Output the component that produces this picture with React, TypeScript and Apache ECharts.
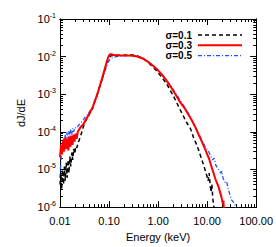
import React, { useEffect, useRef } from "react";
import * as echarts from "echarts";

const X_TICKS = [0.01, 0.1, 1, 10, 100];
const Y_TICKS = [1e-6, 1e-5, 1e-4, 1e-3, 1e-2, 1e-1];

const SERIES_NAMES = ["σ=0.1", "σ=0.3", "σ=0.5"];

// σ=0.1 (black dashed)
const E_01 = [0.0100, 0.0104, 0.0108, 0.0113, 0.0118, 0.0123, 0.0128, 0.0134, 0.0140, 0.0146, 0.0152, 0.0159, 0.0166, 0.0174, 0.0182, 0.0190, 0.020, 0.021, 0.022, 0.024, 0.026, 0.028, 0.030, 0.033, 0.037, 0.041, 0.046, 0.051, 0.056, 0.061, 0.066, 0.072, 0.078, 0.084, 0.090, 0.095, 0.100, 0.11, 0.12, 0.15, 0.20, 0.25, 0.30, 0.38, 0.45, 0.55, 0.66, 0.80, 0.90, 1.0, 1.2, 1.45, 1.7, 2.1, 2.6, 3.2, 3.8, 4.6, 5.3, 6.0, 6.7, 7.5, 8.5, 9.8, 10.5, 11.0, 11.5, 12.0, 12.5, 13.0, 13.5, 14.0];
const V_01 = [4e-6, 8e-6, 3e-6, 1e-5, 4e-6, 1.2e-5, 5e-6, 1.5e-5, 6e-6, 1.8e-5, 8e-6, 2.2e-5, 1.2e-5, 2.8e-5, 1.8e-5, 3.5e-5, 2.6e-5, 4.2e-5, 3.8e-5, 5.5e-5, 7.5e-5, 1.0e-4, 1.4e-4, 1.9e-4, 2.5e-4, 3.2e-4, 4.2e-4, 6.3e-4, 8.8e-4, 1.25e-3, 1.75e-3, 2.5e-3, 3.6e-3, 5.1e-3, 7.0e-3, 8.6e-3, 9.8e-3, 1.05e-2, 1.07e-2, 1.08e-2, 1.09e-2, 1.1e-2, 1.1e-2, 1.05e-2, 9.5e-3, 8.0e-3, 6.6e-3, 5.2e-3, 4.4e-3, 3.7e-3, 2.8e-3, 2.0e-3, 1.4e-3, 8.5e-4, 4.8e-4, 2.8e-4, 1.8e-4, 1.2e-4, 7e-5, 4.8e-5, 3.3e-5, 2.1e-5, 1.3e-5, 7e-6, 5e-6, 8e-6, 4e-6, 2.5e-6, 4e-6, 1.8e-6, 1.2e-6, 9e-7];

// σ=0.3 (red solid)
const E_03 = [0.0100, 0.0105, 0.0110, 0.0116, 0.0122, 0.0128, 0.0134, 0.0141, 0.0148, 0.0155, 0.0163, 0.0171, 0.0180, 0.0189, 0.0198, 0.0208, 0.0219, 0.023, 0.025, 0.027, 0.030, 0.033, 0.037, 0.041, 0.046, 0.051, 0.056, 0.061, 0.066, 0.072, 0.078, 0.084, 0.090, 0.095, 0.100, 0.105, 0.112, 0.12, 0.14, 0.17, 0.20, 0.25, 0.30, 0.35, 0.40, 0.50, 0.66, 0.80, 1.0, 1.2, 1.45, 1.8, 2.3, 2.8, 3.5, 4.2, 4.9, 5.8, 6.7, 7.8, 9.3, 11, 12.5, 14.8, 17, 19.5, 21, 21.5, 22, 22.5];
const V_03 = [2.1e-5, 4.5e-5, 2.5e-5, 6e-5, 3e-5, 7e-5, 3.5e-5, 6.5e-5, 3.2e-5, 7.5e-5, 4e-5, 8e-5, 4.5e-5, 8.5e-5, 5.5e-5, 9e-5, 6.5e-5, 1.0e-4, 1.2e-4, 1.4e-4, 1.6e-4, 2.0e-4, 2.6e-4, 3.3e-4, 4.3e-4, 6.5e-4, 9e-4, 1.3e-3, 1.8e-3, 2.6e-3, 3.8e-3, 5.4e-3, 7.4e-3, 9.2e-3, 1.08e-2, 1.15e-2, 1.16e-2, 1.12e-2, 1.08e-2, 1.07e-2, 1.07e-2, 1.07e-2, 1.06e-2, 1.03e-2, 9.8e-3, 8.8e-3, 6.9e-3, 5.6e-3, 4.3e-3, 3.3e-3, 2.4e-3, 1.6e-3, 9.5e-4, 6.2e-4, 4.2e-4, 2.8e-4, 2.0e-4, 1.3e-4, 8.5e-5, 5.5e-5, 3.2e-5, 1.9e-5, 1.1e-5, 5.5e-6, 3.5e-6, 1.9e-6, 1.2e-6, 1.5e-6, 8e-7, 6e-7];

// σ=0.5 (blue dash-dot)
const E_05 = [0.0100, 0.0104, 0.0108, 0.0113, 0.0118, 0.0123, 0.0128, 0.0134, 0.0140, 0.0146, 0.0152, 0.0159, 0.0166, 0.0174, 0.0182, 0.0190, 0.020, 0.022, 0.024, 0.026, 0.028, 0.030, 0.033, 0.037, 0.041, 0.046, 0.051, 0.056, 0.061, 0.066, 0.072, 0.078, 0.084, 0.090, 0.095, 0.100, 0.11, 0.12, 0.14, 0.17, 0.20, 0.25, 0.30, 0.35, 0.40, 0.50, 0.66, 0.80, 1.0, 1.2, 1.45, 1.8, 2.3, 2.8, 3.5, 4.2, 5.0, 5.8, 6.7, 7.8, 9.0, 10.7, 12, 13, 14, 15, 17, 19, 20, 21, 23, 25, 27, 29, 31, 35, 38, 40];
const V_05 = [6e-6, 1.5e-5, 4e-5, 3e-5, 7e-5, 4.5e-5, 8.5e-5, 5.5e-5, 1.0e-4, 6.5e-5, 1.05e-4, 7.5e-5, 1.15e-4, 8.5e-5, 1.25e-4, 1.0e-4, 1.3e-4, 1.25e-4, 1.5e-4, 1.7e-4, 1.9e-4, 2.1e-4, 2.5e-4, 3.0e-4, 3.6e-4, 4.6e-4, 6.3e-4, 8.6e-4, 1.2e-3, 1.7e-3, 2.4e-3, 3.3e-3, 4.4e-3, 5.6e-3, 6.8e-3, 7.8e-3, 8.9e-3, 9.5e-3, 1.0e-2, 1.03e-2, 1.05e-2, 1.06e-2, 1.06e-2, 1.04e-2, 1.0e-2, 9.0e-3, 7.0e-3, 5.7e-3, 4.4e-3, 3.4e-3, 2.5e-3, 1.7e-3, 1.05e-3, 7e-4, 4.5e-4, 3.0e-4, 1.9e-4, 1.3e-4, 9e-5, 6e-5, 4.2e-5, 3.0e-5, 2.2e-5, 1.8e-5, 2e-5, 1.3e-5, 1.0e-5, 8e-6, 9e-6, 6e-6, 4.6e-6, 4.8e-6, 3e-6, 2.2e-6, 1.6e-6, 1.3e-6, 1.1e-6, 8e-7];

const COLORS = ["#000000", "#ff0000", "#2050ff"];
const WIDTHS = [1.5, 2, 1.3];
const DASHES: (number[] | null)[] = [[4, 3], null, [4, 2, 1, 2]];

function minorTicks(majors: number[]): number[] {
  const out: number[] = [];
  for (let i = 0; i < majors.length - 1; i++) {
    for (let k = 2; k <= 9; k++) out.push(+(majors[i] * k).toPrecision(3));
  }
  return out;
}

const FONT = "Liberation Sans, Arial, sans-serif";

export default function App() {
  const ref = useRef<HTMLDivElement>(null);
  useEffect(() => {
    if (!ref.current) return;
    const chart = echarts.init(ref.current, null, { renderer: "svg" });
    const xMinor = minorTicks(X_TICKS);
    const yMinor = minorTicks(Y_TICKS);
    const line = { show: true, onZero: false, lineStyle: { color: "#000", width: 1 } };
    const mkX = (pos: string, major: boolean, labels: boolean, name?: string) => ({
      type: "log",
      logBase: 10,
      min: 0.01,
      max: 100,
      position: pos,
      gridIndex: 0,
      name: name || "",
      nameLocation: "middle",
      nameGap: 21,
      nameTextStyle: { fontFamily: FONT, fontSize: 11, color: "#000" },
      axisLine: line,
      splitLine: { show: false },
      axisTick: {
        show: true,
        inside: true,
        length: major ? 6 : 3,
        customValues: major ? X_TICKS : xMinor,
        lineStyle: { color: "#000", width: 1 },
      },
      axisLabel: {
        show: labels,
        customValues: X_TICKS,
        margin: 8,
        fontFamily: FONT,
        fontSize: 11,
        color: "#000",
        formatter: (v: number) => v.toFixed(2),
      },
    });
    const mkY = (pos: string, major: boolean, labels: boolean, name?: string) => ({
      type: "log",
      logBase: 10,
      min: 1e-6,
      max: 1e-1,
      position: pos,
      gridIndex: 0,
      name: name || "",
      nameLocation: "middle",
      nameGap: 28,
      nameRotate: 90,
      nameTextStyle: { fontFamily: FONT, fontSize: 11, color: "#000", padding: [0, 0, 0, 0] },
      axisLine: line,
      splitLine: { show: false },
      axisTick: {
        show: true,
        inside: true,
        length: major ? 6 : 3,
        customValues: major ? Y_TICKS : yMinor,
        lineStyle: { color: "#000", width: 1 },
      },
      axisLabel: {
        show: labels,
        customValues: Y_TICKS,
        margin: 4,
        fontFamily: FONT,
        fontSize: 11,
        color: "#000",
        formatter: (v: number) => `10{s|${Math.round(Math.log10(v))}}`,
        rich: {
          s: { fontFamily: FONT, fontSize: 7, color: "#000", verticalAlign: "top", padding: [0, 0, 7, 0] },
        },
      },
    });
    const toData = (e: number[], v: number[]) => e.map((x, i) => [x, v[i]]);
    const legendY = [35, 45.3, 55.7];
    const graphic: any[] = [];
    SERIES_NAMES.forEach((n, i) => {
      graphic.push({
        type: "text",
        x: 192,
        y: legendY[i],
        style: {
          text: n,
          fill: "#000",
          font: `bold 10px ${FONT}`,
          align: "right",
          verticalAlign: "middle",
        },
      });
      graphic.push({
        type: "line",
        shape: { x1: 198, y1: legendY[i], x2: 242, y2: legendY[i] },
        style: {
          stroke: COLORS[i],
          lineWidth: WIDTHS[i],
          lineDash: DASHES[i] || undefined,
        },
      });
    });
    const series = [
      [E_01, V_01],
      [E_03, V_03],
      [E_05, V_05],
    ].map(([e, v], i) => ({
      name: SERIES_NAMES[i],
      type: "line",
      symbol: "none",
      data: toData(e, v),
      lineStyle: { color: COLORS[i], width: WIDTHS[i], type: DASHES[i] || "solid" },
      itemStyle: { color: COLORS[i] },
      z: [3, 4, 2][i],
    }));
    chart.setOption({
      animation: false,
      backgroundColor: "#fff",
      grid: { left: 60, right: 18, top: 19, bottom: 39, containLabel: false },
      xAxis: [
        mkX("bottom", true, true, "Energy (keV)"),
        mkX("bottom", false, false),
        mkX("top", true, false),
        mkX("top", false, false),
      ],
      yAxis: [
        mkY("left", true, true, "dJ/dE"),
        mkY("left", false, false),
        mkY("right", true, false),
        mkY("right", false, false),
      ],
      graphic,
      series,
    });
    return () => chart.dispose();
  }, []);
  return <div ref={ref} style={{ width: 276, height: 247, position: "absolute", left: 0, top: 0 }} />;
}
